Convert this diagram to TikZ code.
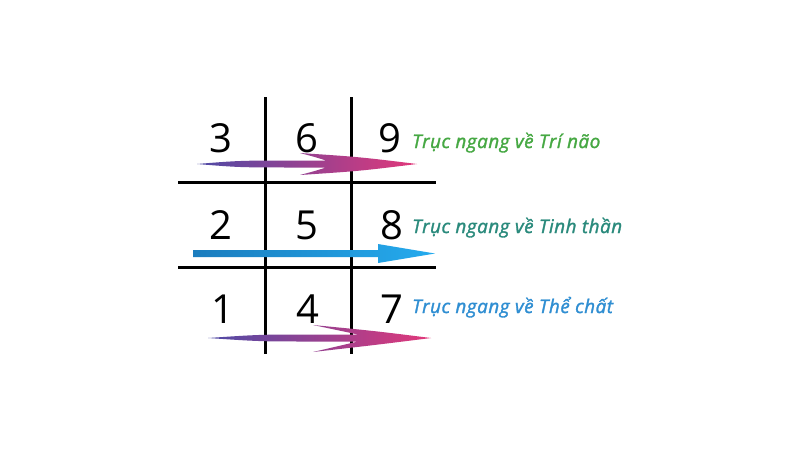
\documentclass[tikz,border=0pt]{standalone}
\usepackage{fontspec}
\setsansfont{Open Sans}
\newfontfamily\axisfont[LetterSpace=3,FakeBold=1.6]{Open Sans}
\usepackage{tikz}
\usetikzlibrary{calc,positioning}

\definecolor{brainGreen}{HTML}{46A843}
\definecolor{spiritTeal}{HTML}{2A8A7C}
\definecolor{bodyBlue}{HTML}{2F8ED2}
\definecolor{arrowPurple}{HTML}{4E4AA6}
\definecolor{arrowPink}{HTML}{E2387A}
\definecolor{arrowBlueA}{HTML}{1B7DBE}
\definecolor{arrowBlueB}{HTML}{25ABEE}

\begin{document}
\begin{tikzpicture}[
x=1pt, y=-1pt,
grid/.style={line width=3pt, black},
digit/.style={font=\sffamily\fontsize{40}{40}\selectfont, inner sep=0pt},
axis/.style={font=\axisfont\itshape\fontsize{18.8}{18.8}\selectfont,
	anchor=base west, inner sep=0pt}
]
\useasboundingbox[fill=white] (0,0) rectangle (800,450);
% grid lines
\coordinate (v1t) at (265,97);  \coordinate (v1b) at (265,354);
\coordinate (v2t) at (351,97);  \coordinate (v2b) at (351,354);
\coordinate (h1l) at (178,182); \coordinate (h1r) at (436,182);
\coordinate (h2l) at (178,267); \coordinate (h2r) at (436,267);
\draw[grid] (v1t) -- (v1b);
\draw[grid] (v2t) -- (v2b);
\draw[grid] (h1l) -- (h1r);
\draw[grid] (h2l) -- (h2r);
% numbers
\foreach \n/\x/\y in {3/221/138, 6/307/138, 9/390/138,
	2/221/225, 5/307/225, 8/392/225,
	1/223/309, 4/308/309, 7/392/309}
{
	\node[digit] (d\n) at (\x,\y) {\n};
}
% arrows
\shade[left color=arrowPurple, right color=arrowPink]
	(197,164) .. controls (240,160.5) .. (300,160.5) -- (326,160.5)
	.. controls (315,157) .. (300,153) .. controls (360,157) .. (417,164)
	.. controls (360,171) .. (300,175) .. controls (315,171) .. (326,167.5)
	-- (300,167.5) .. controls (240,167.5) .. (197,164) -- cycle;
\shade[left color=arrowBlueA, right color=arrowBlueB]
	(193,250) -- (378,250) -- (378,244) -- (435,253.5) -- (378,263)
	-- (378,257) -- (193,257) -- cycle;
\shade[left color=arrowPurple, right color=arrowPink]
	(208,338) .. controls (260,334.5) .. (313,334.5) -- (358,334.5)
	.. controls (335,330) .. (313,325) .. controls (375,331) .. (431,338)
	.. controls (375,345) .. (313,352) .. controls (335,346) .. (358,341.5)
	-- (313,341.5) .. controls (260,341.5) .. (208,338) -- cycle;
% labels
\node[axis, text=brainGreen] (brain) at (412,148) {Trục ngang về Trí não};
\node[axis, text=spiritTeal] (spirit) at (412,233) {Trục ngang về Tinh thần};
\node[axis, text=bodyBlue] (body) at (412,313) {Trục ngang về Thể chất};
\end{tikzpicture}
\end{document}
